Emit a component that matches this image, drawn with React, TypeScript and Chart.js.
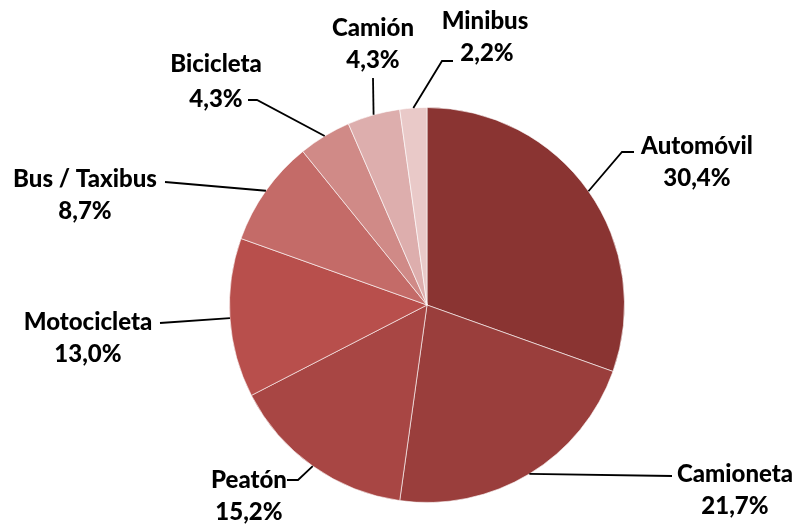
import React, { useEffect, useRef } from "react";
import { Chart, registerables } from "chart.js";

Chart.register(...registerables);

const categories = ["Automóvil", "Camioneta", "Peatón", "Motocicleta", "Bus / Taxibus", "Bicicleta", "Camión", "Minibus"];
const values = [30.4, 21.7, 15.2, 13.0, 8.7, 4.3, 4.3, 2.2];
const valueLabels = ["30,4%", "21,7%", "15,2%", "13,0%", "8,7%", "4,3%", "4,3%", "2,2%"];
const colors = ["#8A3432", "#9A3E3C", "#A84644", "#B84F4C", "#C46B68", "#D08A87", "#DDAEAD", "#E9C9C8"];

// label layout: text center (x, y of first line), leader bend & end points
const labelLayout = [
  { tx: 697, ty: 146, bend: [622, 152], end: [634, 152] },
  { tx: 735, ty: 474, bend: [600, 476], end: [672, 476] },
  { tx: 249, ty: 480, bend: [298, 480], end: [287, 480] },
  { tx: 88, ty: 322, bend: [200, 322], end: [160, 323] },
  { tx: 85, ty: 179, bend: [220, 185], end: [165, 182] },
  { tx: 216, ty: 64, bend: [257, 100], end: [248, 100] },
  { tx: 373, ty: 28, bend: [373, 78], end: [373, 78] },
  { tx: 485, ty: 21, bend: [442, 61], end: [453, 61] },
];

const labelPlugin = {
  id: "pieLabels",
  afterDatasetsDraw(chart: any) {
    const ctx = chart.ctx;
    const meta = chart.getDatasetMeta(0);
    ctx.save();
    meta.data.forEach((arc: any, i: number) => {
      const mid = (arc.startAngle + arc.endAngle) / 2;
      const sx = arc.x + Math.cos(mid) * arc.outerRadius;
      const sy = arc.y + Math.sin(mid) * arc.outerRadius;
      const L = labelLayout[i];
      ctx.strokeStyle = "#000";
      ctx.lineWidth = 1.8;
      ctx.beginPath();
      ctx.moveTo(sx, sy);
      if (i === 1 || i === 3 || i === 4) {
        ctx.lineTo(L.end[0], L.end[1]);
      } else {
        ctx.lineTo(L.bend[0], L.bend[1]);
        ctx.lineTo(L.end[0], L.end[1]);
      }
      ctx.stroke();
      ctx.fillStyle = "#000";
      ctx.font = "900 24px Lato";
      ctx.textAlign = "center";
      ctx.textBaseline = "middle";
      const second = i === 7 ? L.tx + 2 : L.tx;
      ctx.fillText(categories[i], L.tx, L.ty);
      ctx.fillText(valueLabels[i], second, L.ty + (i === 5 ? 35 : 32));
    });
    ctx.restore();
  },
};

export default function App() {
  const ref = useRef<HTMLCanvasElement>(null);
  useEffect(() => {
    if (!ref.current) return;
    const chart = new Chart(ref.current, {
      type: "pie",
      data: {
        labels: categories,
        datasets: [
          {
            data: values,
            backgroundColor: colors,
            borderColor: "rgba(255,255,255,0.6)",
            borderWidth: 1,
          },
        ],
      },
      options: {
        animation: false,
        responsive: false,
        layout: { padding: { left: 229, right: 175, top: 107, bottom: 21 } },
        plugins: { legend: { display: false }, tooltip: { enabled: false } },
      },
      plugins: [labelPlugin],
    });
    return () => chart.destroy();
  }, []);
  return (
    <div style={{ position: "fixed", left: 0, top: 0, width: 800, height: 524, background: "#fff" }}>
      <canvas ref={ref} width={800} height={524} style={{ width: 800, height: 524 }} />
    </div>
  );
}
